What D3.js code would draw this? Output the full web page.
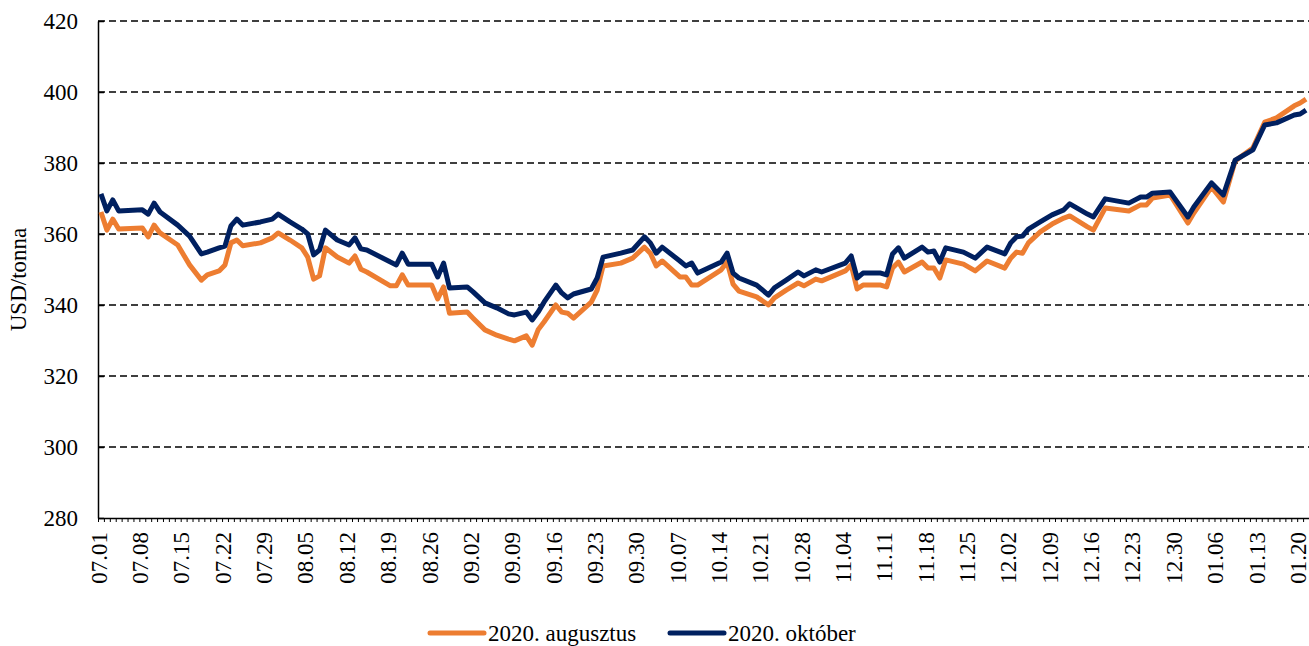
<!DOCTYPE html>
<html>
<head>
<meta charset="utf-8">
<script src="https://cdn.jsdelivr.net/npm/d3@7"></script>
<style>
body { margin: 0; background: #fff; }
text { font-family: "Liberation Serif", "Times New Roman", serif; fill: #000; }
</style>
</head>
<body>
<svg id="chart"></svg>
<script>
// dates of the points
const dates = [
  "2020-07-01","2020-07-02","2020-07-03","2020-07-04","2020-07-08","2020-07-09","2020-07-10","2020-07-11",
  "2020-07-14","2020-07-16","2020-07-18","2020-07-19","2020-07-21","2020-07-22","2020-07-23","2020-07-24",
  "2020-07-25","2020-07-28","2020-07-30","2020-07-31","2020-08-02","2020-08-04","2020-08-05","2020-08-06",
  "2020-08-07","2020-08-08","2020-08-10","2020-08-12","2020-08-13","2020-08-14","2020-08-15","2020-08-19",
  "2020-08-20","2020-08-21","2020-08-22","2020-08-26","2020-08-27","2020-08-28","2020-08-29","2020-09-01",
  "2020-09-02","2020-09-04","2020-09-06","2020-09-08","2020-09-09","2020-09-11","2020-09-12","2020-09-13",
  "2020-09-14","2020-09-16","2020-09-17","2020-09-18","2020-09-19","2020-09-22","2020-09-23","2020-09-24",
  "2020-09-27","2020-09-29","2020-10-01","2020-10-02","2020-10-03","2020-10-04","2020-10-07","2020-10-08",
  "2020-10-09","2020-10-10","2020-10-14","2020-10-15","2020-10-16","2020-10-17","2020-10-20","2020-10-22",
  "2020-10-23","2020-10-25","2020-10-27","2020-10-28","2020-10-30","2020-10-31","2020-11-04","2020-11-05",
  "2020-11-06","2020-11-07","2020-11-10","2020-11-11","2020-11-12","2020-11-13","2020-11-14","2020-11-17",
  "2020-11-18","2020-11-19","2020-11-20","2020-11-21","2020-11-24","2020-11-26","2020-11-28","2020-12-01",
  "2020-12-02","2020-12-03","2020-12-04","2020-12-05","2020-12-07","2020-12-09","2020-12-11","2020-12-12",
  "2020-12-15","2020-12-16","2020-12-18","2020-12-22","2020-12-24","2020-12-25","2020-12-26","2020-12-29",
  "2021-01-01","2021-01-02","2021-01-05","2021-01-07","2021-01-09","2021-01-12","2021-01-14","2021-01-16",
  "2021-01-19","2021-01-20","2021-01-21"
];

const augusztus = [
  366.2,361.1,364.2,361.4,361.7,359.2,362.5,360.3,
  356.9,351.3,347.0,348.5,349.6,351.3,357.5,358.3,
  356.7,357.5,358.9,360.3,358.3,356.1,353.5,347.3,
  348.2,356.1,353.5,351.8,353.8,350.1,349.3,345.4,
  345.4,348.5,345.6,345.6,341.7,345.1,337.7,338.0,
  336.3,333.0,331.5,330.4,329.9,331.3,328.7,333.0,
  335.2,340.0,338.0,337.7,336.3,340.8,344.2,351.0,
  351.8,353.2,356.3,354.6,351.0,352.4,347.9,347.9,
  345.6,345.6,349.9,352.1,345.9,343.9,342.3,340.0,
  342.0,344.2,346.2,345.4,347.3,346.8,349.6,351.3,
  344.5,345.6,345.6,345.1,350.4,352.1,349.3,352.1,
  350.4,350.4,347.6,352.7,351.5,349.6,352.4,350.4,
  353.2,354.9,354.6,357.5,360.6,362.8,364.5,365.1,
  362.0,361.1,367.3,366.5,368.2,368.2,370.1,371.0,
  363.1,365.9,373.2,369.0,380.6,384.2,391.5,392.7,
  396.1,396.9,398.0
];

const oktober = [
  371.3,366.5,369.6,366.5,366.8,365.6,368.7,366.2,
  362.5,359.4,354.4,354.9,356.1,356.6,362.3,364.2,
  362.5,363.4,364.2,365.6,363.4,361.4,360.0,354.1,
  355.5,361.1,358.3,356.9,358.9,355.8,355.5,352.1,
  351.3,354.6,351.5,351.5,347.9,351.8,344.8,345.1,
  343.7,340.6,339.2,337.5,337.2,338.0,335.8,338.0,
  340.8,345.6,343.4,342.0,343.1,344.5,347.6,353.5,
  354.6,355.5,359.2,357.5,354.6,356.3,352.4,351.0,
  351.8,349.0,352.1,354.6,349.0,347.6,345.6,342.8,
  344.8,347.0,349.3,348.2,349.9,349.3,351.8,353.8,
  347.6,349.0,349.0,348.5,354.4,356.1,353.2,356.3,
  354.9,355.2,352.1,356.1,354.9,353.2,356.3,354.4,
  357.5,359.2,359.4,361.4,363.4,365.4,366.8,368.5,
  365.6,364.8,369.9,368.7,370.4,370.4,371.5,371.8,
  364.8,367.6,374.4,371.0,380.8,383.7,390.7,391.3,
  393.5,393.8,394.9
];

const seriesNames = ["2020. augusztus", "2020. október"];
const seriesColors = ["#ED7D31", "#002060"];
const yTicks = [280, 300, 320, 340, 360, 380, 400, 420];
const firstDay = "2020-07-01";
const lastDay = "2021-01-21";
const yTitle = "USD/tonna";

const width = 1309, height = 646;
const plot = { left: 98, right: 1309, top: 21, bottom: 518 };
const fontSize = "23px";

const parse = d3.timeParse("%Y-%m-%d");
const fmt = d3.timeFormat("%m.%d");
const start = parse(firstDay), end = parse(lastDay);

const svg = d3.select("#chart")
    .attr("width", width)
    .attr("height", height);

// each calendar day is one slot, points sit in the middle
const x = d3.scaleTime()
    .domain([d3.timeHour.offset(start, -12), d3.timeHour.offset(end, 12)])
    .range([plot.left, plot.right]);

const y = d3.scaleLinear()
    .domain([280, 420])
    .range([plot.bottom, plot.top]);

// dashed grid
svg.append("g")
    .selectAll("line")
    .data(yTicks.slice(1))
    .join("line")
    .attr("x1", plot.left)
    .attr("x2", plot.right)
    .attr("y1", d => y(d))
    .attr("y2", d => y(d))
    .attr("stroke", "#000")
    .attr("stroke-width", 1.3)
    .attr("stroke-dasharray", "7,4");

// y axis
const yAxis = svg.append("g")
    .attr("transform", `translate(${plot.left},0)`)
    .call(d3.axisLeft(y).tickValues(yTicks).tickSize(-6).tickSizeOuter(0).tickPadding(20));
yAxis.select(".domain").attr("stroke", "#000").attr("stroke-width", 1.5);
yAxis.selectAll(".tick line").attr("stroke", "#000").attr("stroke-width", 1.5);
yAxis.selectAll("text")
    .style("font-family", '"Liberation Serif", serif')
    .style("font-size", fontSize);

svg.append("text")
    .attr("transform", `translate(26,${(plot.top + plot.bottom) / 2 + 10}) rotate(-90)`)
    .attr("text-anchor", "middle")
    .style("font-size", fontSize)
    .text(yTitle);

// x axis: a small tick between every day
const dayEdges = d3.timeDay.range(start, d3.timeDay.offset(end, 2)).map(d => d3.timeHour.offset(d, -12));
const xAxis = svg.append("g")
    .attr("transform", `translate(0,${plot.bottom})`)
    .call(d3.axisBottom(x).tickValues(dayEdges).tickSize(4).tickSizeOuter(0).tickFormat(""));
xAxis.select(".domain").attr("stroke", "#000").attr("stroke-width", 1.5);
xAxis.selectAll(".tick line").attr("stroke", "#000").attr("stroke-width", 1);

// weekly labels
const labelDays = d3.timeDay.range(start, end, 7);
svg.append("g")
    .selectAll("text")
    .data(labelDays)
    .join("text")
    .attr("transform", d => `translate(${x(d)},532) rotate(-90)`)
    .attr("text-anchor", "end")
    .attr("dy", "0.25em")
    .style("font-size", fontSize)
    .text(d => fmt(d));

// lines
const line = d3.line()
    .x(d => x(d.date))
    .y(d => y(d.value));

[augusztus, oktober].forEach((vals, i) => {
  const pts = dates.map((d, j) => ({ date: parse(d), value: vals[j] }));
  svg.append("path")
      .datum(pts)
      .attr("fill", "none")
      .attr("stroke", seriesColors[i])
      .attr("stroke-width", 5)
      .attr("stroke-linejoin", "round")
      .attr("d", line);
});

// legend
const legendX = [430, 670];
seriesNames.forEach((name, i) => {
  const g = svg.append("g").attr("transform", `translate(${legendX[i]},633)`);
  g.append("line")
      .attr("x1", 0).attr("x2", 54)
      .attr("stroke", seriesColors[i])
      .attr("stroke-width", 5)
      .attr("stroke-linecap", "round");
  g.append("text")
      .attr("x", 58)
      .attr("dy", "0.35em")
      .style("font-size", fontSize)
      .text(name);
});
</script>
</body>
</html>
